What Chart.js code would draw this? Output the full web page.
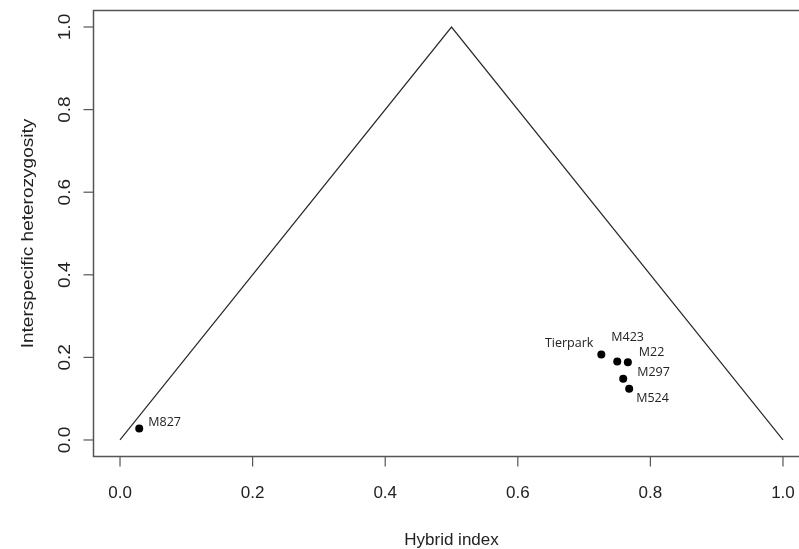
<!DOCTYPE html>
<html>
<head>
<meta charset="utf-8">
<title>Hybrid index vs interspecific heterozygosity</title>
<script src="https://cdn.jsdelivr.net/npm/chart.js@4.4.1/dist/chart.umd.min.js"></script>
<style>
	html, body { margin: 0; padding: 0; background: #fff; overflow: hidden; }
	#wrap { width: 799px; height: 549px; overflow: hidden; }
	#wrap canvas { display: block; }
</style>
</head>
<body>
<div id="wrap"><canvas id="hiChart" width="830" height="549"></canvas></div>
<script>
// Samples
var sampleNames = ['Tierpark', 'M423', 'M22', 'M297', 'M524', 'M827'];
var hybridIndex = [0.726, 0.750, 0.766, 0.759, 0.768, 0.029];
var heterozygosity = [0.207, 0.190, 0.188, 0.148, 0.124, 0.028];

// Triangle of maximum possible heterozygosity
var triangleX = [0, 0.5, 1];
var triangleY = [0, 1, 0];

// Tick labels (same on both axes)
var tickValues = [0, 0.2, 0.4, 0.6, 0.8, 1.0];
var tickLabels = ['0.0', '0.2', '0.4', '0.6', '0.8', '1.0'];

var xTitle = 'Hybrid index';
var yTitle = 'Interspecific heterozygosity';

// where each sample name sits relative to its dot (pixels)
var labelPlace = [
	{ dx: -8, dy: -11, align: 'right' },
	{ dx: -6, dy: -24, align: 'left' },
	{ dx: 11, dy: -10, align: 'left' },
	{ dx: 14, dy: -6, align: 'left' },
	{ dx: 7, dy: 10, align: 'left' },
	{ dx: 9, dy: -6, align: 'left' }
];

function toPoints(xs, ys)
{
	var pts = [];
	for (var i = 0; i < xs.length; i++) {
		pts.push({ x: xs[i], y: ys[i] });
	}
	return pts;
}

var axisFont = '17px "Liberation Sans", Arial, sans-serif';
// the original image is a bit stretched vertically, so upright text runs longer
var vStretch = 1.12;

// R style box, ticks, tick labels, titles and point names
var rStylePlot = {
	id: 'rStylePlot',
	afterDatasetsDraw: function(chart)
	{
		var ctx = chart.ctx;
		var meta = chart.getDatasetMeta(1);
		ctx.save();
		ctx.font = '12.5px "Open Sans", "Noto Sans", sans-serif';
		ctx.fillStyle = '#222';
		ctx.textBaseline = 'middle';
		for (var i = 0; i < meta.data.length; i++) {
			var el = meta.data[i];
			var p = labelPlace[i];
			ctx.textAlign = p.align;
			ctx.fillText(sampleNames[i], el.x + p.dx, el.y + p.dy);
		}
		ctx.restore();
	},
	afterDraw: function(chart)
	{
		var ctx = chart.ctx;
		var a = chart.chartArea;
		var xs = chart.scales.x;
		var ys = chart.scales.y;
		var i, px;

		ctx.save();
		//box
		ctx.strokeStyle = '#555';
		ctx.lineWidth = 1.5;
		ctx.strokeRect(a.left, a.top, a.right - a.left, a.bottom - a.top);

		ctx.lineWidth = 1.2;
		ctx.font = axisFont;
		ctx.fillStyle = '#222';
		ctx.textAlign = 'center';
		ctx.textBaseline = 'alphabetic';

		//x axis
		for (i = 0; i < tickValues.length; i++) {
			px = xs.getPixelForValue(tickValues[i]);
			ctx.beginPath();
			ctx.moveTo(px, a.bottom);
			ctx.lineTo(px, a.bottom + 10);
			ctx.stroke();
			ctx.fillText(tickLabels[i], px, a.bottom + 41.5);
		}
		ctx.fillText(xTitle, (a.left + a.right) / 2, a.bottom + 88.5);

		//y axis (labels turned like R's las = 0)
		for (i = 0; i < tickValues.length; i++) {
			px = ys.getPixelForValue(tickValues[i]);
			ctx.beginPath();
			ctx.moveTo(a.left, px);
			ctx.lineTo(a.left - 10, px);
			ctx.stroke();
			ctx.save();
			ctx.translate(a.left - 23.5, px);
			ctx.rotate(-Math.PI / 2);
			ctx.scale(vStretch, 1);
			ctx.fillText(tickLabels[i], 0, 0);
			ctx.restore();
		}
		ctx.save();
		ctx.translate(a.left - 60.5, (a.top + a.bottom) / 2);
		ctx.rotate(-Math.PI / 2);
		ctx.scale(vStretch, 1);
		ctx.fillText(yTitle, 0, 0);
		ctx.restore();

		ctx.restore();
	}
};

var ctx = document.getElementById('hiChart').getContext('2d');

var hiChart = new Chart(ctx, {
	type: 'scatter',
	data: {
		datasets: [
			{
				label: 'triangle',
				data: toPoints(triangleX, triangleY),
				showLine: true,
				borderColor: '#2a2a2a',
				borderWidth: 1.2,
				pointRadius: 0,
				fill: false
			},
			{
				label: 'samples',
				data: toPoints(hybridIndex, heterozygosity),
				backgroundColor: '#000',
				borderColor: '#000',
				borderWidth: 0,
				pointRadius: 4
			}
		]
	},
	options: {
		responsive: false,
		animation: false,
		events: [],
		layout: {
			padding: { left: 93.5, top: 10.5, right: 20.5, bottom: 92.5 }
		},
		plugins: {
			legend: { display: false },
			tooltip: { enabled: false }
		},
		scales: {
			x: { type: 'linear', min: -0.04, max: 1.04, display: false },
			y: { type: 'linear', min: -0.04, max: 1.04, display: false }
		}
	},
	plugins: [rStylePlot]
});
</script>
</body>
</html>
